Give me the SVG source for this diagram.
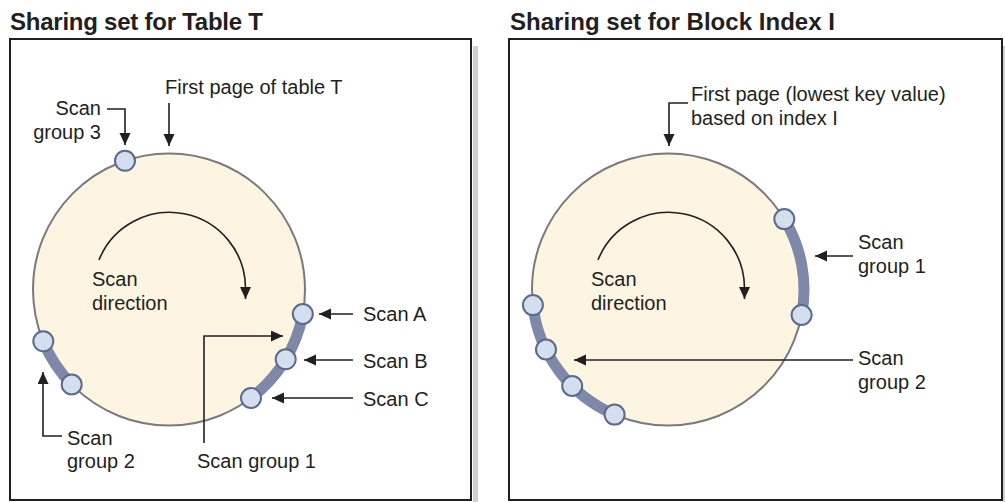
<svg xmlns="http://www.w3.org/2000/svg" width="1005" height="502" viewBox="0 0 1005 502">
<style>
.title{font-family:"Liberation Sans",Arial,sans-serif;font-weight:bold;font-size:24px;fill:#231F20}
.lbl{font-family:"Liberation Sans",Arial,sans-serif;font-size:20px;fill:#231F20}
.end{text-anchor:end}
.frame{fill:#fff;stroke:#231F20;stroke-width:2}
.shadow{fill:#D1D1D1}
.disk{fill:#FDF5E2;stroke:#7A7A7A;stroke-width:2}
.band{fill:none;stroke:#7E88A8;stroke-width:11;stroke-linecap:butt}
.node{fill:#D3DEEF;stroke:#5E6A8A;stroke-width:2}
.conn{fill:none;stroke:#231F20;stroke-width:1.6}
</style>
<defs>
<marker id="ah" markerUnits="userSpaceOnUse" markerWidth="13" markerHeight="12" refX="12" refY="5.5" orient="auto" viewBox="0 0 13 12">
<path d="M0,0 L12,5.5 L0,11 z" fill="#231F20"/>
</marker>
</defs>
<rect class="shadow" x="473" y="46" width="5" height="456"/>
<rect class="shadow" x="1003" y="46" width="5" height="456"/>
<g id="panel-table">
<text class="title" x="10" y="30" textLength="253" lengthAdjust="spacing">Sharing set for Table T</text>
<rect class="frame" x="10" y="39" width="461" height="461"/>
<circle class="disk" cx="169" cy="289.5" r="136"/>
</g>
<g id="panel-index">
<text class="title" x="510" y="30" textLength="325" lengthAdjust="spacing">Sharing set for Block Index I</text>
<rect class="frame" x="509" y="39" width="493" height="461"/>
<circle class="disk" cx="668" cy="289.5" r="136"/>
</g>
<g id="bands">
<path class="band" d="M302.8,314.05 A136,136 0 0 1 251,398"/>
<path class="band" d="M71.7,384.5 A136,136 0 0 1 43.3,341.3"/>
<path class="band" d="M784.3,219.1 A136,136 0 0 1 801.6,315"/>
<path class="band" d="M614.6,414.6 A136,136 0 0 1 532.9,305.1"/>
</g>
<g id="connectors">
<path class="conn" d="M107,109 H125 V145" marker-end="url(#ah)"/>
<path class="conn" d="M169,103 V146" marker-end="url(#ah)"/>
<path class="conn" d="M353,314 H319" marker-end="url(#ah)"/>
<path class="conn" d="M353,360 H304" marker-end="url(#ah)"/>
<path class="conn" d="M353,398 H272" marker-end="url(#ah)"/>
<path class="conn" d="M204,443 V336 H283" marker-end="url(#ah)"/>
<path class="conn" d="M62,436 H43 V372" marker-end="url(#ah)"/>
<path class="conn" d="M99,260 A76,76 0 0 1 245.5,289 L245.5,299" marker-end="url(#ah)"/>
<path class="conn" d="M688,103 H669 V146" marker-end="url(#ah)"/>
<path class="conn" d="M853,256 H815" marker-end="url(#ah)"/>
<path class="conn" d="M853,360 H574" marker-end="url(#ah)"/>
<path class="conn" d="M598,260 A76,76 0 0 1 744.5,289 L744.5,299" marker-end="url(#ah)"/>
</g>
<g id="scan-group-3"><circle class="node" cx="125" cy="160.8" r="10"/></g>
<g id="scan-a"><circle class="node" cx="302.8" cy="314" r="10"/></g>
<g id="scan-b"><circle class="node" cx="285.7" cy="359.3" r="10"/></g>
<g id="scan-c"><circle class="node" cx="251" cy="398" r="10"/></g>
<g id="scan-group-2-a"><circle class="node" cx="43.3" cy="341.3" r="10"/></g>
<g id="scan-group-2-b"><circle class="node" cx="71.7" cy="384.5" r="10"/></g>
<g id="idx-group-1-a"><circle class="node" cx="784.3" cy="219.1" r="10"/></g>
<g id="idx-group-1-b"><circle class="node" cx="801.6" cy="315" r="10"/></g>
<g id="idx-group-2-a"><circle class="node" cx="532.9" cy="305.1" r="10"/></g>
<g id="idx-group-2-b"><circle class="node" cx="546" cy="349.5" r="10"/></g>
<g id="idx-group-2-c"><circle class="node" cx="572.2" cy="386" r="10"/></g>
<g id="idx-group-2-d"><circle class="node" cx="614.6" cy="414.6" r="10"/></g>
<g id="labels">
<text class="lbl" x="165" y="93.5">First page of table T</text>
<text class="lbl end" x="101" y="115">Scan</text>
<text class="lbl end" x="101" y="138.5">group 3</text>
<text class="lbl" x="92" y="286">Scan</text>
<text class="lbl" x="92" y="310">direction</text>
<text class="lbl" x="363" y="321">Scan A</text>
<text class="lbl" x="363" y="367.5">Scan B</text>
<text class="lbl" x="363" y="406">Scan C</text>
<text class="lbl" x="67" y="445">Scan</text>
<text class="lbl" x="67" y="468">group 2</text>
<text class="lbl" x="197" y="468">Scan group 1</text>
<text class="lbl" x="691" y="100.5">First page (lowest key value)</text>
<text class="lbl" x="691" y="125">based on index I</text>
<text class="lbl" x="591" y="286">Scan</text>
<text class="lbl" x="591" y="310">direction</text>
<text class="lbl" x="858" y="249">Scan</text>
<text class="lbl" x="858" y="273">group 1</text>
<text class="lbl" x="858" y="365">Scan</text>
<text class="lbl" x="858" y="389">group 2</text>
</g>
</svg>
